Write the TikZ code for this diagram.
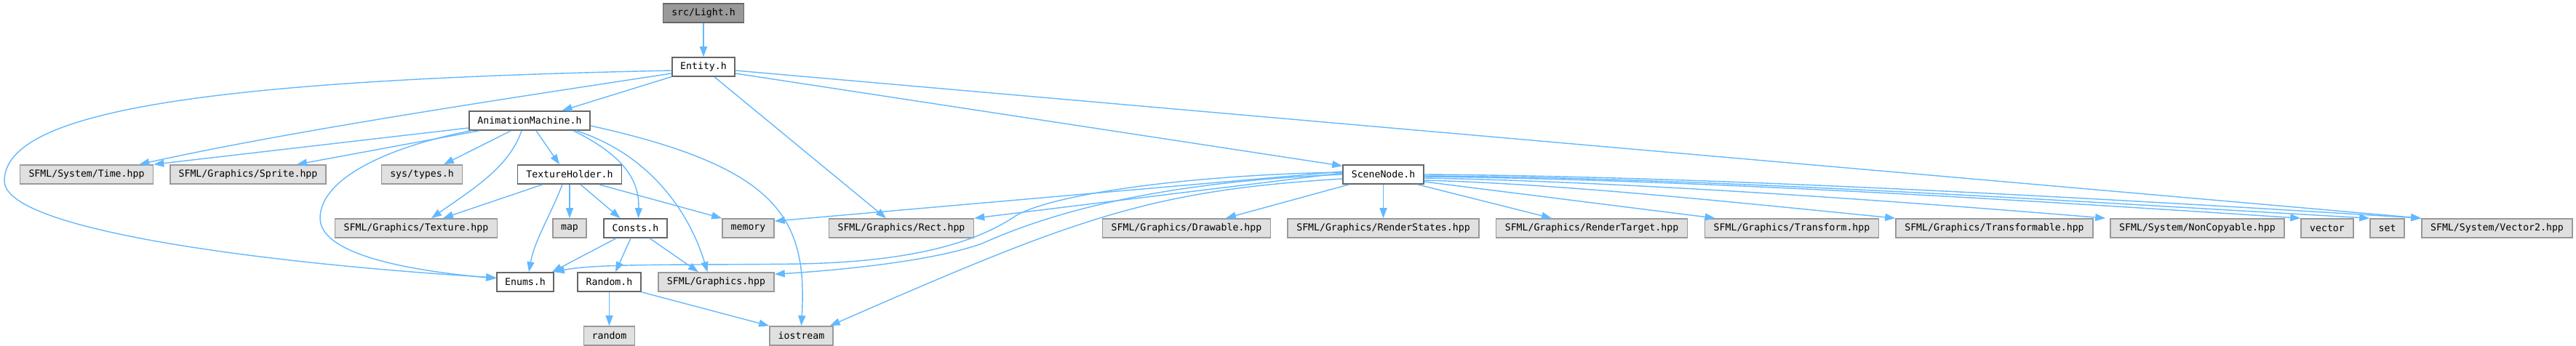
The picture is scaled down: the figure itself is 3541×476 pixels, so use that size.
\documentclass[tikz,border=0pt]{standalone}
\usepackage{fontspec}
\setmonofont{DejaVu Sans Mono}
\usetikzlibrary{arrows.meta}
\definecolor{edgec}{HTML}{63B8FF}
\definecolor{docb}{HTML}{666666}
\definecolor{extb}{HTML}{999999}
\definecolor{extf}{HTML}{E0E0E0}
\definecolor{rootf}{HTML}{999999}
\begin{document}
\begin{tikzpicture}[x=0.5pt,y=-0.5pt,
  box/.style={draw, line width=0.8pt, inner sep=0pt, minimum height=13pt,
    font=\ttfamily\fontsize{6.6pt}{8pt}\selectfont, anchor=center},
  doc/.style={box, draw=docb, fill=white},
  ext/.style={box, draw=extb, fill=extf},
  root/.style={box, draw=docb, fill=rootf},
  bw/.style={minimum width=#1*0.5pt},
  dep/.style={draw=edgec, line width=0.7pt, -{Triangle[length=7pt,width=5pt]}}]
\useasboundingbox (0,0) rectangle (3541,476);
% nodes
\node[root,bw=111] (light) at (967,18) {src/Light.h};
\node[doc,bw=86] (entity) at (967,92) {Entity.h};
\node[doc,bw=166] (anim) at (728,166) {AnimationMachine.h};
\node[ext,bw=183] (time) at (119,240) {SFML/System/Time.hpp};
\node[ext,bw=214] (sprite) at (341,240) {SFML/Graphics/Sprite.hpp};
\node[ext,bw=111] (systypes) at (580,240) {sys/types.h};
\node[doc,bw=143] (texholder) at (783,240) {TextureHolder.h};
\node[doc,bw=111] (scenenode) at (1901.5,240) {SceneNode.h};
\node[ext,bw=223] (texture) at (572,314) {SFML/Graphics/Texture.hpp};
\node[ext,bw=46] (map) at (783,314) {map};
\node[doc,bw=87] (consts) at (873.5,314) {Consts.h};
\node[ext,bw=71] (memory) at (1028.5,314) {memory};
\node[ext,bw=199] (rect) at (1239,314) {SFML/Graphics/Rect.hpp};
\node[ext,bw=231] (drawable) at (1631,314) {SFML/Graphics/Drawable.hpp};
\node[ext,bw=263] (renderstates) at (1901.5,314) {SFML/Graphics/RenderStates.hpp};
\node[ext,bw=263] (rendertarget) at (2188,314) {SFML/Graphics/RenderTarget.hpp};
\node[ext,bw=239] (transform) at (2463,314) {SFML/Graphics/Transform.hpp};
\node[ext,bw=271] (transformable) at (2741.5,314) {SFML/Graphics/Transformable.hpp};
\node[ext,bw=239] (noncopyable) at (3020.5,314) {SFML/System/NonCopyable.hpp};
\node[ext,bw=72] (vector) at (3199,314) {vector};
\node[ext,bw=47] (set) at (3281.5,314) {set};
\node[ext,bw=207] (vector2) at (3432.5,314) {SFML/System/Vector2.hpp};
\node[doc,bw=78] (enums) at (722,388) {Enums.h};
\node[doc,bw=87] (randomh) at (837.5,388) {Random.h};
\node[ext,bw=159] (graphics) at (984.5,388) {SFML/Graphics.hpp};
\node[ext,bw=70] (randomlib) at (837.5,462) {random};
\node[ext,bw=87] (iostream) at (1101.5,462) {iostream};
% edges from Light.h
\draw[dep] (light) -- (entity);
% edges from Entity.h
\draw[dep] (entity) -- (anim);
\draw[dep] ([shift={(0,9)}]entity.west) .. controls (700,135) and (400,180) .. ([shift={(-20,0)}]time.north east);
\draw[dep] ([shift={(0,5)}]entity.west) .. controls (300,110) and (6,150) .. (6,249)
  .. controls (6,320) and (400,365) .. ([shift={(0,-6)}]enums.west);
\draw[dep] ([shift={(15,0)}]entity.south) -- ([shift={(-21,0)}]rect.north);
\draw[dep] ([shift={(0,9)}]entity.east) -- ([shift={(0,2)}]scenenode.north west);
\draw[dep] ([shift={(0,5)}]entity.east) -- (vector2.north west);
% edges from AnimationMachine.h
\draw[dep] ([shift={(0,10)}]anim.west) -- (time.north east);
\draw[dep] ([shift={(15,0)}]anim.south west) -- ([shift={(67,0)}]sprite.north);
\draw[dep] ([shift={(3,0)}]anim.south west) .. controls (520,205) and (440,250) .. (440,300)
  .. controls (440,350) and (560,372) .. ([shift={(0,-5)}]enums.west);
\draw[dep] ([shift={(-25.5,0)}]anim.south) -- ([shift={(30,0)}]systypes.north);
\draw[dep] ([shift={(-11,0)}]anim.south) .. controls (700,230) and (650,260) .. ([shift={(21,0)}]texture.north);
\draw[dep] ([shift={(9,0)}]anim.south) -- ([shift={(-14,0)}]texholder.north);
\draw[dep] ([shift={(60,0)}]anim.south) .. controls (860,215) and (879,250) .. ([shift={(4,0)}]consts.north);
\draw[dep] ([shift={(64,0)}]anim.south) .. controls (900,215) and (950,300) .. ([shift={(-12,0)}]graphics.north);
\draw[dep] ([shift={(0,7)}]anim.east) .. controls (1070,230) and (1110,300) .. (iostream.north);
% edges from TextureHolder.h
\draw[dep] ([shift={(-37,0)}]texholder.south) -- ([shift={(37,0)}]texture.north);
\draw[dep] ([shift={(-10,0)}]texholder.south) .. controls (755,300) and (735,330) .. ([shift={(5,0)}]enums.north);
\draw[dep] (texholder.south) -- (map.north);
\draw[dep] ([shift={(15,0)}]texholder.south) -- ([shift={(-21,0)}]consts.north);
\draw[dep] ([shift={(40,0)}]texholder.south) -- (memory.north west);
% edges from Consts.h
\draw[dep] ([shift={(-26.5,0)}]consts.south) -- ([shift={(-3,0)}]enums.north east);
\draw[dep] ([shift={(-6.5,0)}]consts.south) -- ([shift={(8.5,0)}]randomh.north);
\draw[dep] ([shift={(19.5,0)}]consts.south) -- ([shift={(-24.5,0)}]graphics.north);
% edges from Random.h
\draw[dep] (randomh.south) -- (randomlib.north);
\draw[dep] (randomh.south east) -- (iostream.north west);
% edges from SceneNode.h
\draw[dep] ([shift={(0,-4)}]scenenode.west) -- ([shift={(0,4)}]memory.north east);
\draw[dep] ([shift={(0,-2)}]scenenode.west) -- (rect.north east);
\draw[dep] ([shift={(0,-3)}]scenenode.west) .. controls (1650,240) and (1450,265) .. (1396,297)
  .. controls (1340,335) and (1250,360) .. (1100,363)
  .. controls (950,365) and (820,362) .. (enums.north east);
\draw[dep] (scenenode.west) .. controls (1600,250) and (1450,290) .. (1350,335)
  .. controls (1280,360) and (1150,372) .. ([shift={(0,3)}]graphics.north east);
\draw[dep] ([shift={(0,6)}]scenenode.west) .. controls (1580,262) and (1480,300) .. ([shift={(-5,0)}]iostream.north east);
\draw[dep] ([shift={(-47,0)}]scenenode.south) -- ([shift={(54,0)}]drawable.north);
\draw[dep] (scenenode.south) -- (renderstates.north);
\draw[dep] ([shift={(47,0)}]scenenode.south) -- ([shift={(-55,0)}]rendertarget.north);
\draw[dep] ([shift={(0,10)}]scenenode.east) -- ([shift={(15,0)}]transform.north west);
\draw[dep] ([shift={(0,8)}]scenenode.east) .. controls (2150,253) and (2400,280) .. (transformable.north west);
\draw[dep] ([shift={(0,5)}]scenenode.east) .. controls (2250,250) and (2650,280) .. ([shift={(-6,0)}]noncopyable.north west);
\draw[dep] ([shift={(0,3)}]scenenode.east) .. controls (2350,247) and (2850,280) .. (vector.north west);
\draw[dep] ([shift={(0,2)}]scenenode.east) .. controls (2350,244) and (2900,280) .. (set.north west);
\draw[dep] (scenenode.east) .. controls (2400,243) and (3000,280) .. (vector2.north west);
\end{tikzpicture}
\end{document}
